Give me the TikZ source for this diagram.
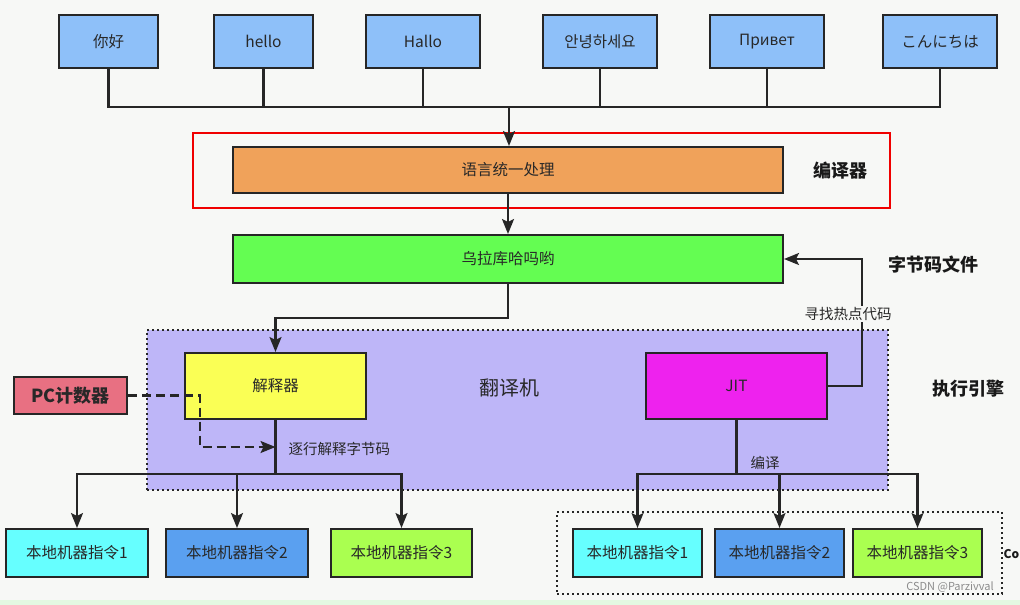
\documentclass[tikz,border=0pt]{standalone}
\usepackage{fontspec}
\setmainfont{Noto Sans CJK SC}
\usetikzlibrary{arrows.meta}
\definecolor{bgc}{RGB}{247,248,246}
\definecolor{topblue}{RGB}{142,192,249}
\definecolor{orangec}{RGB}{240,162,90}
\definecolor{greenc}{RGB}{100,253,82}
\definecolor{yellowc}{RGB}{250,255,85}
\definecolor{magc}{RGB}{238,34,238}
\definecolor{purplec}{RGB}{190,182,248}
\definecolor{pinkc}{RGB}{232,112,130}
\definecolor{cyanc}{RGB}{102,255,255}
\definecolor{bluec}{RGB}{90,160,240}
\definecolor{limec}{RGB}{170,255,80}
\definecolor{redc}{RGB}{240,0,0}
\definecolor{txtc}{RGB}{40,40,40}
\tikzset{
  box/.style={draw=black!85, line width=2pt, inner sep=0pt, font=\fontsize{15.5}{18}\selectfont, text=txtc},
  conn/.style={draw=black!85, line width=2.2pt},
  arr/.style={conn, -{Stealth[length=15pt,width=12pt,inset=3pt]}},
  biglabel/.style={font=\fontsize{18}{22}\selectfont\bfseries, text=black!90},
  smalllabel/.style={font=\fontsize{14.5}{18}\selectfont, text=txtc},
}
\begin{document}
\begin{tikzpicture}[x=1pt,y=-1pt]
\fill[bgc] (0,0) rectangle (1020,605);
\useasboundingbox (0,0) rectangle (1020,605);
\fill[green!8!bgc] (0,600) rectangle (1020,605);

% background areas
\node[draw=black!85, line width=2pt, dash pattern=on 2pt off 3pt, fill=purplec, minimum width=741pt, minimum height=160pt, inner sep=0pt] (engine) at (517.5,410) {};
\node[draw=black!85, line width=2pt, dash pattern=on 2pt off 3pt, minimum width=445pt, minimum height=82pt, inner sep=0pt] (codebox) at (779.5,553) {};
\node[draw=redc, line width=2pt, minimum width=697pt, minimum height=75pt, inner sep=0pt] (compiler) at (541.5,170.5) {};

% top language boxes
\node[box, fill=topblue, minimum width=99pt, minimum height=53pt] (l1) at (108.5,41.5) {你好};
\node[box, fill=topblue, minimum width=99pt, minimum height=53pt] (l2) at (263.5,41.5) {hello};
\node[box, fill=topblue, minimum width=114pt, minimum height=53pt] (l3) at (423,41.5) {Hallo};
\node[box, fill=topblue, minimum width=114pt, minimum height=53pt] (l4) at (600,41.5) {안녕하세요};
\node[box, fill=topblue, minimum width=114pt, minimum height=53pt] (l5) at (767,41.5) {Привет};
\node[box, fill=topblue, minimum width=114pt, minimum height=53pt] (l6) at (940,41.5) {こんにちは};

% main bars
\node[box, fill=orangec, minimum width=550pt, minimum height=46pt] (unify) at (508,170) {语言统一处理};
\node[box, fill=greenc, minimum width=550pt, minimum height=48pt] (bytecode) at (508,259) {乌拉库哈吗哟};

% engine contents
\node[box, fill=yellowc, minimum width=181pt, minimum height=66pt] (interp) at (275.5,386) {解释器};
\node[box, fill=magc, minimum width=181pt, minimum height=66pt] (jit) at (736.5,386) {JIT};
\node[box, fill=pinkc, minimum width=113pt, minimum height=37pt, font=\fontsize{18}{22}\selectfont\bfseries] (pc) at (70.5,395.5) {PC计数器};

% bottom boxes
\node[box, fill=cyanc, minimum width=142pt, minimum height=48pt] (a1) at (77,553) {本地机器指令1};
\node[box, fill=bluec, minimum width=142pt, minimum height=48pt] (a2) at (237,553) {本地机器指令2};
\node[box, fill=limec, minimum width=141pt, minimum height=48pt] (a3) at (401.5,553) {本地机器指令3};
\node[box, fill=cyanc, minimum width=129pt, minimum height=48pt] (b1) at (637.5,553) {本地机器指令1};
\node[box, fill=bluec, minimum width=129pt, minimum height=48pt] (b2) at (779.5,553) {本地机器指令2};
\node[box, fill=limec, minimum width=129pt, minimum height=48pt] (b3) at (917.5,553) {本地机器指令3};

% side labels
\node[biglabel] (lbcomp) at (840,171) {编译器};
\node[biglabel] (lbbyte) at (933,265) {字节码文件};
\node[biglabel] (lbexec) at (968,389) {执行引擎};
\node[font=\fontsize{20}{24}\selectfont, text=txtc] (lbtrans) at (509,388) {翻译机};
\node[font=\fontsize{12}{14}\selectfont\bfseries, text=black!90, anchor=west, inner sep=0pt] (lbco) at (1003.5,554) {Co};

% top bus
\coordinate (bus) at (509,107);
\draw[conn] (l1.south) |- (bus);
\draw[conn] (l2.south) -- (l2.south |- bus);
\draw[conn] (l3.south) -- (l3.south |- bus);
\draw[conn] (l4.south) -- (l4.south |- bus);
\draw[conn] (l5.south) -- (l5.south |- bus);
\draw[conn] (l6.south) |- (bus);
\draw[arr] (bus) -- (bus |- unify.north);
\draw[arr] (unify.south) -- (bytecode.north);

% bytecode to interpreter
\coordinate (bend1) at (508,318);
\draw[arr] (bytecode.south) -- (bend1) -| (interp.north);

% hot code feedback
\coordinate (hot) at (862,386);
\draw[arr] (jit.east) -- (hot) |- (bytecode.east);
\node[smalllabel, fill=bgc, inner sep=1pt] (lbhot) at (848,314) {寻找热点代码};

% interpreter outputs
\coordinate (ib) at (275.5,474);
\draw[conn] (interp.south) -- (ib);
\draw[arr] (ib) -| (a1.north);
\draw[arr] (ib) -| (a2.north);
\draw[arr] (ib) -| (a3.north);
\coordinate (pcin) at (275.5,447);
\draw[conn, dash pattern=on 9pt off 5pt, -{Stealth[length=15pt,width=12pt,inset=3pt]}] (pc.east) -- (200,395.5) -- (200,447) -- (pcin);
\node[smalllabel, anchor=west] (lbline) at (285,449) {逐行解释字节码};

% JIT outputs
\coordinate (jb) at (736.5,474);
\draw[conn] (jit.south) -- (jb);
\draw[arr] (jb) -| (b1.north);
\draw[arr] (jb) -| (b2.north);
\draw[arr] (jb) -| (b3.north);
\node[smalllabel] (lbcompile) at (765,463) {编译};

% watermark
\node[font=\fontsize{11}{13}\selectfont, text=black!45] (wm) at (950,587) {CSDN @Parzivval};
\end{tikzpicture}
\end{document}
